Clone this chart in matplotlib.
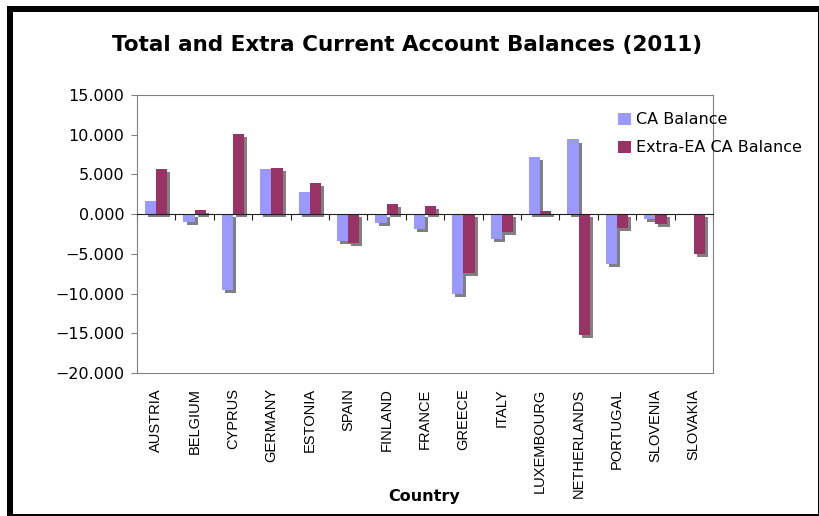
import matplotlib
matplotlib.use("Agg")
from matplotlib import pyplot as plt
from matplotlib import patheffects as pe
from matplotlib.patches import Rectangle
from matplotlib.ticker import StrMethodFormatter
import numpy as np

countries = ["AUSTRIA", "BELGIUM", "CYPRUS", "GERMANY", "ESTONIA", "SPAIN", "FINLAND",
             "FRANCE", "GREECE", "ITALY", "LUXEMBOURG", "NETHERLANDS", "PORTUGAL",
             "SLOVENIA", "SLOVAKIA"]
ca_balance = [1.7, -1.0, -9.6, 5.7, 2.85, -3.4, -1.1, -1.9, -10.0, -3.1, 7.15, 9.4,
              -6.3, -0.65, 0.05]
extra_ea = [5.7, 0.55, 10.1, 5.85, 3.9, -3.6, 1.3, 1.05, -7.45, -2.2, 0.4, -15.2,
            -1.8, -1.2, -5.05]
y_ticks = [15, 10, 5, 0, -5, -10, -15, -20]

fig = plt.figure(figsize=(8.2, 5.16), dpi=100)

# black frame around the whole picture
fig.patches.append(Rectangle((7 / 820, 0), 813 / 820, 510 / 516, transform=fig.transFigure,
                             facecolor="black", edgecolor="none", zorder=-10))
fig.patches.append(Rectangle((13 / 820, 2 / 516), 805 / 820, 502 / 516, transform=fig.transFigure,
                             facecolor="white", edgecolor="none", zorder=-9))

ax = fig.add_axes([137 / 820, 1 - 373 / 516, 576 / 820, 278 / 516])
ax.patch.set_alpha(0)

x = np.arange(len(countries))
w = 0.29
b1 = ax.bar(x - w / 2, ca_balance, w, color="#9999ff", label="CA Balance", zorder=3)
b2 = ax.bar(x + w / 2, extra_ea, w, color="#993366", label="Extra-EA CA Balance", zorder=3)

ax.set_xlim(-0.5, len(countries) - 0.5)
ax.set_ylim(-20, 15)
ax.set_yticks(y_ticks)
ax.yaxis.set_major_formatter(StrMethodFormatter("{x:.3f}"))
ax.tick_params(axis="y", direction="out", length=4, color="#808080", labelsize=11.5, pad=5)

# x axis drawn through zero with ticks between categories
ax.spines["bottom"].set_position(("data", 0))
ax.spines["bottom"].set_color("#202020")
ax.spines["bottom"].set_zorder(4)
ax.set_xticks(np.arange(-0.5, len(countries), 1.0))
ax.set_xticklabels([])
ax.tick_params(axis="x", direction="out", length=4, color="#202020")
for s in ["left", "top", "right"]:
    ax.spines[s].set_color("#808080")

sec = ax.secondary_xaxis("bottom")
sec.set_xticks(x)
sec.set_xticklabels(countries, rotation=90, fontsize=10.5, family="Liberation Sans", va="top")
sec.tick_params(length=0, pad=11)
sec.spines["bottom"].set_color("#808080")

fig.text(424 / 820, 1 - 497 / 516, "Country", ha="center", va="center",
         fontsize=11.5, fontweight="bold")
fig.text(407 / 820, 1 - 45 / 516, "Total and Extra Current Account Balances (2011)",
         ha="center", va="center", fontsize=15.5, fontweight="bold")

leg = ax.legend(loc="upper left", bbox_to_anchor=(612 / 820, 1 - 106 / 516), bbox_transform=fig.transFigure,
                frameon=False, fontsize=11.5, handlelength=0.8, handleheight=0.8, handletextpad=0.3,
                labelspacing=0.8, borderaxespad=0)

# grey drop shadow on the bars only (not on the legend keys)
shadow = [pe.SimplePatchShadow(offset=(2.2, -2.2), shadow_rgbFace="#808080", alpha=1), pe.Normal()]
for b in list(b1) + list(b2):
    b.set_path_effects(shadow)

fig.savefig("out.png", dpi=100)
